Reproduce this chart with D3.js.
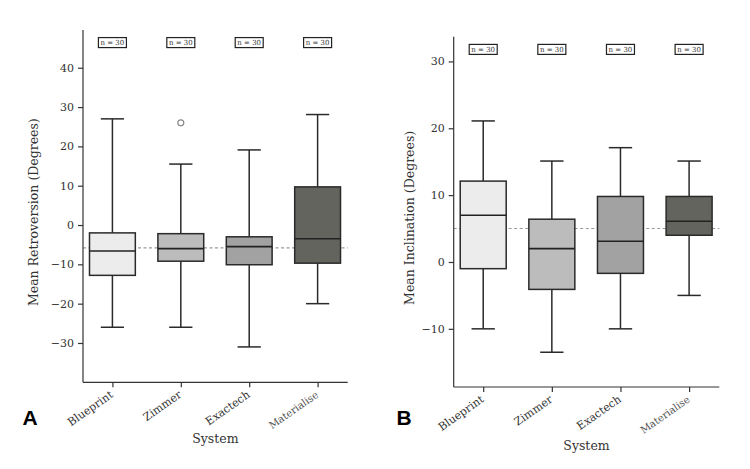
<!DOCTYPE html>
<html>
<head>
<meta charset="utf-8">
<script src="https://cdn.jsdelivr.net/npm/d3@7"></script>
<style>
  body { margin: 0; background: #fff; }
  svg text { font-family: "DejaVu Serif", serif; }
</style>
</head>
<body>
<svg id="chart" width="750" height="469"></svg>
<script>
var systems = ["Blueprint", "Zimmer", "Exactech", "Materialise"];
var fills = ["#ececec", "#bcbcbc", "#a2a2a2", "#64645f"];

// [whisker low, q1, median, q3, whisker high]
var retroStats = [
  [-26, -12.8, -6.6, -2.0, 27],
  [-26, -9.2, -6.0, -2.2, 15.5],
  [-31, -10.1, -5.5, -3.0, 19.1],
  [-20, -9.7, -3.5, 9.7, 28.1]
];
var retroOutliers = [[], [26], [], []];
var retroRef = -5.8;
var retroTicks = [-30, -20, -10, 0, 10, 20, 30, 40];

var inclStats = [
  [-10, -1.0, 7.0, 12.1, 21.1],
  [-13.5, -4.1, 2.0, 6.4, 15.1],
  [-10, -1.7, 3.1, 9.8, 17.1],
  [-5, 4.0, 6.1, 9.8, 15.1]
];
var inclOutliers = [[], [], [], []];
var inclRef = 5.0;
var inclTicks = [-10, 0, 10, 20, 30];

var counts = [30, 30, 30, 30];

var svg = d3.select("#chart");

function drawPanel(p) {
  var x = d3.scaleLinear().domain([-0.43, 3.44]).range([p.left, p.right]);
  var y = d3.scaleLinear().domain(p.ydom).range([p.bottom, p.top]);
  var g = svg.append("g");
  var bw = 0.67, cw = 0.34;

  // reference line
  g.append("line")
    .attr("x1", p.left).attr("x2", p.right)
    .attr("y1", y(p.ref)).attr("y2", y(p.ref))
    .attr("stroke", "#999").attr("stroke-width", 1.1)
    .attr("stroke-dasharray", "3,2.5");

  p.stats.forEach(function (s, i) {
    var cx = x(i);
    var stroke = "#2a2a2a";
    // whiskers
    g.append("line").attr("x1", cx).attr("x2", cx)
      .attr("y1", y(s[3])).attr("y2", y(s[4]))
      .attr("stroke", stroke).attr("stroke-width", 1.5);
    g.append("line").attr("x1", cx).attr("x2", cx)
      .attr("y1", y(s[1])).attr("y2", y(s[0]))
      .attr("stroke", stroke).attr("stroke-width", 1.5);
    // caps
    [s[0], s[4]].forEach(function (v) {
      g.append("line")
        .attr("x1", x(i - cw / 2)).attr("x2", x(i + cw / 2))
        .attr("y1", y(v)).attr("y2", y(v))
        .attr("stroke", stroke).attr("stroke-width", 1.5);
    });
    // box
    g.append("rect")
      .attr("x", x(i - bw / 2)).attr("width", x(i + bw / 2) - x(i - bw / 2))
      .attr("y", y(s[3])).attr("height", y(s[1]) - y(s[3]))
      .attr("fill", p.fills[i]).attr("stroke", stroke).attr("stroke-width", 1.5);
    // median
    g.append("line")
      .attr("x1", x(i - bw / 2)).attr("x2", x(i + bw / 2))
      .attr("y1", y(s[2])).attr("y2", y(s[2]))
      .attr("stroke", "#222").attr("stroke-width", 1.6);
    // outliers
    p.outliers[i].forEach(function (o) {
      g.append("circle").attr("cx", cx).attr("cy", y(o)).attr("r", 3)
        .attr("fill", "none").attr("stroke", "#888").attr("stroke-width", 1.2);
    });
    // n boxes
    var ny = y(p.nval);
    g.append("rect")
      .attr("x", cx - 14).attr("y", ny - 5)
      .attr("width", 28).attr("height", 10)
      .attr("fill", "#fff").attr("stroke", "#222").attr("stroke-width", 1.2);
    g.append("text").attr("x", cx).attr("y", ny + 2.5)
      .attr("text-anchor", "middle").attr("font-size", 7).attr("fill", "#333")
      .text("n = " + counts[i]);
  });

  // axes
  var ya = g.append("g").attr("transform", "translate(" + p.left + ",0)")
    .call(d3.axisLeft(y).tickValues(p.ticks).tickSize(5).tickPadding(4)
      .tickFormat(function (d) { return d < 0 ? "\u2212" + Math.abs(d) : d; }));
  ya.select(".domain").attr("d", "M0," + p.top + "V" + p.bottom).attr("stroke", "#333").attr("stroke-width", 1.2);
  ya.selectAll(".tick line").attr("stroke", "#333").attr("stroke-width", 1.2);
  ya.selectAll(".tick text").attr("font-size", 11).attr("fill", "#333")
    .attr("font-family", "DejaVu Serif, serif");

  var xa = g.append("g").attr("transform", "translate(0," + p.bottom + ")")
    .call(d3.axisBottom(x).tickValues([0, 1, 2, 3]).tickSize(5).tickFormat(function (d) { return systems[d]; }));
  xa.select(".domain").attr("d", "M" + p.left + ",0H" + p.right).attr("stroke", "#333").attr("stroke-width", 1.2);
  xa.selectAll(".tick line").attr("stroke", "#333").attr("stroke-width", 1.2);
  xa.selectAll(".tick text")
    .attr("font-family", "DejaVu Serif, serif")
    .attr("font-size", function (d) { return d === 3 ? 10 : 11; })
    .attr("fill", function (d) { return d === 3 ? "#555" : "#333"; })
    .attr("text-anchor", "end")
    .attr("dy", null).attr("y", 0)
    .attr("transform", "translate(1,14) rotate(-35)");

  g.append("text")
    .attr("transform", "translate(" + p.ylabX + "," + ((p.top + p.bottom) / 2 + 6) + ") rotate(-90)")
    .attr("text-anchor", "middle").attr("font-size", 12.5).attr("fill", "#333")
    .text(p.ylabel);
  g.append("text")
    .attr("x", (p.left + p.right) / 2).attr("y", p.xlabY)
    .attr("text-anchor", "middle").attr("font-size", 12.5).attr("fill", "#333")
    .text("System");
  g.append("text")
    .attr("x", p.letterX).attr("y", p.letterY)
    .attr("text-anchor", "middle").attr("font-size", 21).attr("font-weight", "bold")
    .style("font-family", "Liberation Sans, Arial, sans-serif")
    .text(p.letter);
}

drawPanel({
  left: 83, right: 347.7, top: 30, bottom: 382.3,
  ydom: [-40, 49.6], ticks: retroTicks, stats: retroStats, outliers: retroOutliers,
  ref: retroRef, nval: 46.4, fills: fills, ylabel: "Mean Retroversion (Degrees)",
  ylabX: 38, xlabY: 443, letter: "A", letterX: 30, letterY: 425
});
drawPanel({
  left: 453.7, right: 719.3, top: 36.7, bottom: 387,
  ydom: [-18.7, 33.7], ticks: inclTicks, stats: inclStats, outliers: inclOutliers,
  ref: inclRef, nval: 31.8, fills: fills, ylabel: "Mean Inclination (Degrees)",
  ylabX: 414, xlabY: 450, letter: "B", letterX: 404, letterY: 425
});
</script>
</body>
</html>
